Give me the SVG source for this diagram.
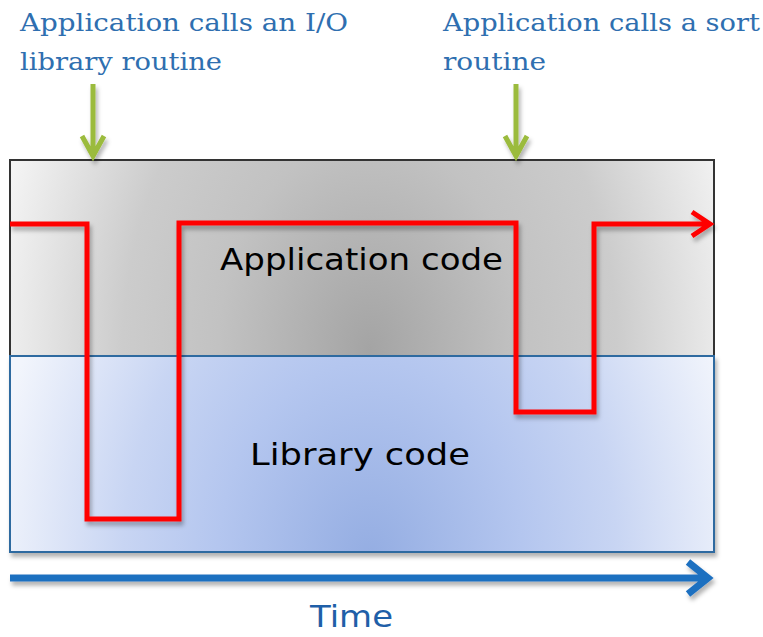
<svg xmlns="http://www.w3.org/2000/svg" width="763" height="637" viewBox="0 0 763 637">
<defs>
<radialGradient id="gGray" gradientUnits="userSpaceOnUse" cx="370" cy="350" r="380" gradientTransform="translate(370 350) scale(1 1.4) translate(-370 -350)">
<stop offset="0" stop-color="#a4a4a4"/>
<stop offset="0.4" stop-color="#c2c2c2"/>
<stop offset="0.65" stop-color="#cccccc"/>
<stop offset="1" stop-color="#f4f4f4"/>
</radialGradient>
<radialGradient id="gBlue" gradientUnits="userSpaceOnUse" cx="370" cy="560" r="380" gradientTransform="translate(370 560) scale(1 1.3) translate(-370 -560)">
<stop offset="0" stop-color="#94ade2"/>
<stop offset="0.4" stop-color="#b4c6ef"/>
<stop offset="0.65" stop-color="#c8d5f3"/>
<stop offset="1" stop-color="#f2f5fc"/>
</radialGradient>
<filter id="sh" x="-10%" y="-10%" width="120%" height="130%">
<feDropShadow dx="2" dy="4" stdDeviation="2" flood-color="#000" flood-opacity="0.3"/>
</filter>
</defs>
<style>
.lbl{font-family:"DejaVu Serif","Liberation Serif",serif;font-size:25px;fill:#2f6fb0}
.code{font-family:"DejaVu Sans","Liberation Sans",sans-serif;font-size:31px;fill:#000}
.green{stroke:#9bbb3c;stroke-width:5;fill:none}
</style>
<g id="labels">
<text class="lbl" x="20" y="31" textLength="328" lengthAdjust="spacingAndGlyphs">Application calls an I/O</text>
<text class="lbl" x="20" y="70" textLength="202" lengthAdjust="spacingAndGlyphs">library routine</text>
<text class="lbl" x="443" y="31" textLength="317" lengthAdjust="spacingAndGlyphs">Application calls a sort</text>
<text class="lbl" x="443" y="70" textLength="103" lengthAdjust="spacingAndGlyphs">routine</text>
</g>
<g id="application">
<rect x="10" y="160" width="704" height="196" fill="url(#gGray)" stroke="#333" stroke-width="2"/>
<text class="code" x="220" y="270" textLength="283" lengthAdjust="spacingAndGlyphs">Application code</text>
</g>
<g id="library">
<rect x="10" y="356" width="704" height="196" fill="url(#gBlue)" stroke="#2e6aa0" stroke-width="2" filter="url(#sh)"/>
<text class="code" x="250" y="465" textLength="220" lengthAdjust="spacingAndGlyphs">Library code</text>
</g>
<g id="connectors">
<g filter="url(#sh)">
<path class="green" d="M93 84 V156 M82 136 L93 156 L104 136"/>
<path class="green" d="M516 84 V156 M505 136 L516 156 L527 136"/>
<path d="M10 224 H87 V519 H179 V223 H516 V412 H594 V224 H710 M692 212 L710 224 L692 236" fill="none" stroke="#ff0000" stroke-width="5"/>
<path d="M10 578 H708 M688 562 L708 578 L688 594" fill="none" stroke="#1f6fc0" stroke-width="7"/>
</g>
</g>
<g id="time">
<text x="310" y="627" font-family="DejaVu Sans, sans-serif" font-size="31" fill="#1f5fa8" textLength="83" lengthAdjust="spacingAndGlyphs">Time</text>
</g>
</svg>
